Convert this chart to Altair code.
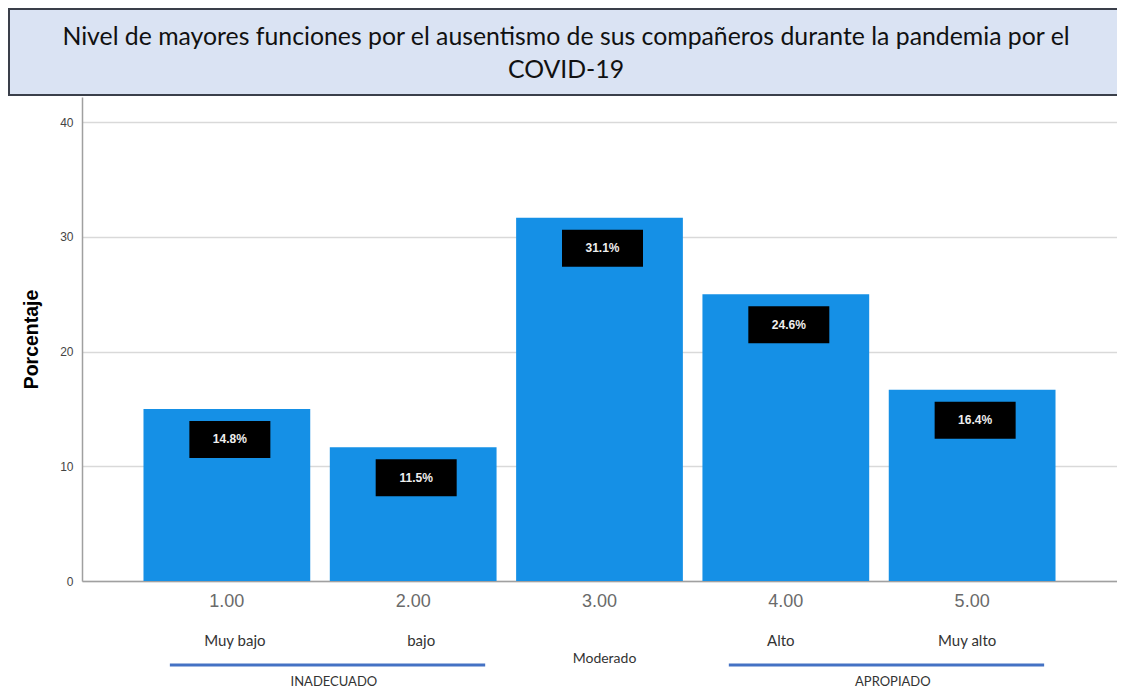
import altair as alt
import pandas as pd

# ---- data ----
categories = ["1.00", "2.00", "3.00", "4.00", "5.00"]
bar_values = [15.0, 11.67, 31.67, 25.0, 16.67]          # bar heights (valid %)
label_texts = ["14.8%", "11.5%", "31.1%", "24.6%", "16.4%"]  # printed labels
level_names = ["Muy bajo", "bajo", "Moderado", "Alto", "Muy alto"]
group_names = ["INADECUADO", "APROPIADO"]
group_first = ["1.00", "4.00"]
group_last = ["2.00", "5.00"]
title_lines = [
    "Nivel de mayores funciones por el ausentismo de sus compañeros durante la pandemia por el",
    "COVID-19",
]
y_title = "Porcentaje"
y_ticks = [0, 10, 20, 30, 40]

df = pd.DataFrame({"cat": categories, "val": bar_values,
                   "lab": label_texts, "level": level_names})
groups = pd.DataFrame({"first": group_first, "last": group_last, "name": group_names})
one = pd.DataFrame({"k": [0]})

BAR = "#1590e6"
CAL = "Lato"

xscale = alt.Scale(domain=categories, paddingInner=0.105, paddingOuter=0.33)
x_enc = alt.X("cat:N", sort=categories, scale=xscale,
              axis=alt.Axis(title=None, labelAngle=0, labelFontSize=18,
                            labelColor="#6a6a6a", labelPadding=11, ticks=False,
                            labelFont="Liberation Sans",
                            domainColor="#a0a0a0", domainWidth=1.5))
y_enc = alt.Y("val:Q", scale=alt.Scale(domain=[0, 42.2], nice=False),
              axis=alt.Axis(values=y_ticks, title=y_title, titleFontSize=19.5,
                            titleFontWeight="bold", titleColor="#000000",
                            titleFont="Liberation Sans", titlePadding=18,
                            labelFontSize=12, labelColor="#444444",
                            labelFont="Liberation Sans", labelPadding=9,
                            ticks=False, grid=True, gridColor="#d9d9d9",
                            gridWidth=1.5, domainColor="#a0a0a0", domainWidth=1.5))

base = alt.Chart(df)

bars = base.mark_bar(color=BAR).encode(x=x_enc, y=y_enc)

boxes = base.mark_bar(color="black", width=81, xOffset=3, yOffset=12,
                      y2Offset=49).encode(
    x=alt.X("cat:N", sort=categories), y=alt.Y("val:Q"), y2=alt.Y2("val"))

labels = base.mark_text(color="#eeeeee", fontWeight="bold", fontSize=12,
                        font="Liberation Sans", baseline="middle",
                        dx=3, dy=30.5).encode(
    x=alt.X("cat:N", sort=categories), y=alt.Y("val:Q"), text="lab:N")

row1a = base.transform_filter(
    alt.FieldOneOfPredicate(field="level", oneOf=level_names[:2])).mark_text(
    font=CAL, fontSize=15, color="#333333", baseline="middle", dx=8).encode(
    x=alt.X("cat:N", sort=categories), y=alt.value(544), text="level:N")

row1b = base.transform_filter(
    alt.FieldOneOfPredicate(field="level", oneOf=level_names[3:])).mark_text(
    font=CAL, fontSize=15, color="#333333", baseline="middle", dx=-5).encode(
    x=alt.X("cat:N", sort=categories), y=alt.value(544), text="level:N")

row2 = base.transform_filter(alt.datum.level == "Moderado").mark_text(
    font=CAL, fontSize=14, color="#333333", baseline="middle", dx=5).encode(
    x=alt.X("cat:N", sort=categories), y=alt.value(562), text="level:N")

glines = alt.Chart(groups).mark_rule(color="#4472c4", strokeWidth=3,
                                     xOffset=-57, x2Offset=72).encode(
    x=alt.X("first:N", sort=categories), x2=alt.X2("last"), y=alt.value(568))

gnames = alt.Chart(groups).mark_text(font=CAL, fontSize=13, color="#333333",
                                     baseline="middle", dx=107).encode(
    x=alt.X("first:N", sort=categories), y=alt.value(585), text="name:N")

tbox = alt.Chart(one).mark_rect(fill="#dae3f3", stroke="#3a3f4a",
                                strokeWidth=2).encode(
    x=alt.value(-73), x2=alt.value(1060), y=alt.value(-88), y2=alt.value(-2))

ttext = alt.Chart(one).mark_text(font=CAL, fontSize=24.8, lineHeight=33,
                                 baseline="middle", color="#111111").encode(
    x=alt.value(484), y=alt.value(-59), text=alt.value(title_lines))

chart = alt.layer(tbox, ttext, bars, boxes, labels, row1a, row1b, row2,
                  glines, gnames).properties(
    width=1035, height=484,
    autosize=alt.AutoSizeParams(type="none"),
    padding={"left": 74, "top": 89, "right": 0, "bottom": 110},
).configure_view(stroke=None)

chart.save("out.html", embed_options={"renderer": "svg", "actions": False})
